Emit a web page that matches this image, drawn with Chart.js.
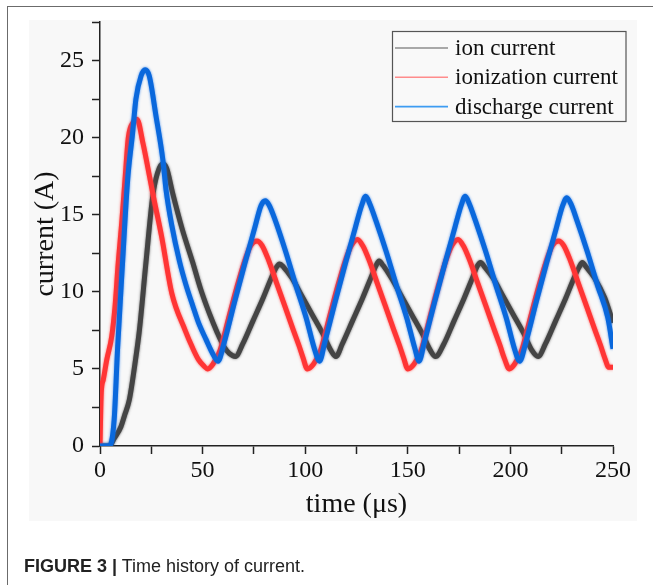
<!DOCTYPE html>
<html>
<head>
<meta charset="utf-8">
<script src="https://cdn.jsdelivr.net/npm/chart.js@4"></script>
<style>
html,body{margin:0;padding:0;background:#fff;width:653px;height:585px;overflow:hidden}
#frameTop{position:absolute;left:7px;top:6px;width:646px;height:0;border-top:1.5px solid #6b6b6b}
#frameLeft{position:absolute;left:7px;top:6px;width:0;height:579px;border-left:1.5px solid #6b6b6b}
#panel{position:absolute;left:29px;top:20px;width:608px;height:501px;background:#f8f8f8}
#wrap{position:absolute;left:0;top:0;width:653px;height:585px}
#caption{position:absolute;left:24px;top:557px;font-size:18px;line-height:18px;font-family:"Liberation Sans",Arial,sans-serif;color:#222;white-space:nowrap}
#caption b{font-weight:bold}
</style>
</head>
<body>
<div id="frameTop"></div>
<div id="frameLeft"></div>
<div id="panel"></div>
<div id="wrap"><canvas id="c" width="653" height="585"></canvas></div>
<div id="caption"><b>FIGURE 3 |</b> Time history of current.</div>
<script>
// ---- data ----
const seriesLabels = ['ion current', 'ionization current', 'discharge current'];

const ionTime = [0, 4.5, 7, 10.2, 12, 14.3, 17, 19.2, 22.4, 25.7, 28, 30.5, 32.5, 35.4, 40, 45.2, 49, 53.3, 57, 60.6, 63, 66,
  69.5, 74.5, 79.5, 83.5, 86, 87.5, 89.5, 93.5, 98.5, 103.5, 108.5, 112.5, 115,
  118, 123, 128, 132, 134.5, 136, 138, 142, 147, 152, 157, 161, 163.5,
  167.5, 172.5, 177.5, 181.5, 184, 185.5, 187.5, 191.5, 196.5, 201.5, 206.5, 210.5, 213.5,
  217, 222, 227, 231, 233.5, 235, 237, 241, 246, 250];
const ionValues = [0, 0, 0.5, 1.25, 2.0, 3.0, 5.3, 7.5, 11.9, 16.2, 17.7, 18.3, 18.0, 16.4, 14.1, 11.9, 10.2, 8.6, 7.4, 6.4, 6.0, 5.8,
  6.6, 8.1, 9.6, 10.9, 11.6, 11.8, 11.6, 10.9, 9.7, 8.5, 7.3, 6.2, 5.8,
  6.6, 8.1, 9.6, 10.9, 11.7, 12.0, 11.7, 10.9, 9.7, 8.5, 7.3, 6.2, 5.8,
  6.6, 8.1, 9.6, 10.9, 11.7, 11.9, 11.6, 10.9, 9.7, 8.5, 7.3, 6.2, 5.8,
  6.6, 8.1, 9.6, 10.9, 11.6, 11.9, 11.6, 10.9, 9.6, 8.0];

const ionizationTime = [0, 0.6, 1.6, 3.3, 5.7, 7.3, 8.9, 10.6, 12.2, 13.8, 16.2, 18, 21, 24.4, 26, 30, 35, 41.5, 45, 48, 50.5, 52.5,
  55, 58.5, 62.5, 66.5, 70.5, 73.5, 76.5, 79, 82, 86, 90, 94, 97, 99, 101,
  104, 107.5, 111.5, 115.5, 119.5, 122.5, 125.5, 128, 131, 135, 139, 143, 146, 148, 150,
  153, 156.5, 160.5, 164.5, 168.5, 171.5, 174.5, 177, 180, 184, 188, 192, 195, 197, 199.5,
  202, 205.5, 209.5, 213.5, 217.5, 220.5, 223.5, 226, 229, 233, 237, 241, 244, 246, 248, 250];
const ionizationValues = [0, 3.4, 4.3, 5.6, 7.1, 9.0, 11.9, 14.5, 17.3, 20.0, 21.0, 21.2, 19.6, 17.3, 16.2, 13.6, 9.9, 7.5, 6.4, 5.6, 5.2, 5.0,
  5.3, 6.2, 8.2, 10.2, 12.0, 13.0, 13.3, 13.0, 12.1, 10.6, 9.1, 7.6, 6.5, 5.7, 5.0,
  5.3, 6.2, 8.2, 10.2, 12.0, 13.0, 13.4, 13.0, 12.1, 10.6, 9.1, 7.6, 6.5, 5.7, 5.0,
  5.3, 6.2, 8.2, 10.2, 12.0, 13.0, 13.4, 13.0, 12.1, 10.6, 9.1, 7.6, 6.5, 5.7, 5.0,
  5.3, 6.2, 8.2, 10.2, 12.0, 13.0, 13.3, 13.0, 12.1, 10.6, 9.1, 7.6, 6.5, 5.7, 5.1, 5.1];

const dischargeTime = [0, 4.5, 6.9, 8.6, 11, 13.5, 15.9, 17.5, 20, 22, 24, 27.3, 30.6, 32.2, 35, 38.7, 42, 45.2, 48, 51.7, 54.5, 57.5,
  60.5, 65.5, 70.5, 75.5, 78.5, 80.5, 82.5, 85.5, 90.5, 95.5, 100.5, 104.5, 107,
  109.5, 114.5, 119.5, 124.5, 127.5, 129.5, 131.5, 134.5, 139.5, 144.5, 149.5, 153.5, 155.5,
  158, 163, 168, 173, 176, 178, 180, 183, 188, 193, 198, 202, 204.5,
  207.5, 212.5, 217.5, 222.5, 225.5, 227.5, 229.5, 232.5, 237.5, 242.5, 247.5, 250];
const dischargeValues = [0, 0, 1.7, 6.4, 11.9, 17.3, 20.3, 22.5, 24.0, 24.4, 24.0, 21.4, 18.6, 16.6, 14.3, 12.0, 10.4, 9.1, 8.0, 6.9, 6.1, 5.5,
  6.7, 9.3, 11.8, 14.2, 15.6, 15.9, 15.6, 14.6, 12.6, 10.4, 8.3, 6.3, 5.5,
  6.7, 9.3, 11.8, 14.2, 15.6, 16.2, 15.7, 14.6, 12.6, 10.4, 8.3, 6.3, 5.5,
  6.7, 9.3, 11.8, 14.2, 15.6, 16.2, 15.7, 14.6, 12.6, 10.4, 8.3, 6.3, 5.5,
  6.7, 9.3, 11.8, 14.2, 15.6, 16.1, 15.7, 14.6, 12.6, 10.4, 8.3, 6.3];

const xTickLabels = ['0', '50', '100', '150', '200', '250'];
const yTickLabels = ['0', '5', '10', '15', '20', '25'];

// ---- chart ----
const toPoints = (t, v) => t.map((x, i) => ({x: x, y: v[i]}));
const serif = '"Liberation Serif", "Times New Roman", serif';
const lineColors = ['#444444', '#ff3535', '#0a68dc'];
const fuzzColors = ['rgba(60,60,60,0.8)', 'rgba(255,60,60,0.8)', 'rgba(20,110,230,0.8)'];
const legendColors = ['#8c8c8c', '#ff8c8c', '#3d9cf2'];

const fuzz = {
  id: 'fuzz',
  beforeDatasetDraw(chart, args) {
    const c = chart.ctx;
    c.save();
    c.shadowColor = fuzzColors[args.index];
    c.shadowBlur = 2.5;
  },
  afterDatasetDraw(chart) {
    chart.ctx.restore();
  }
};

const boxLegend = {
  id: 'boxLegend',
  afterDraw(chart) {
    const c = chart.ctx;
    const x0 = 392.5, y0 = 31.5, w = 233.5, h = 90;
    c.save();
    c.fillStyle = '#f9f9f9';
    c.fillRect(x0, y0, w, h);
    c.strokeStyle = '#555';
    c.lineWidth = 1.2;
    c.strokeRect(x0, y0, w, h);
    c.font = '23px ' + serif;
    c.textBaseline = 'middle';
    c.textAlign = 'left';
    chart.data.datasets.forEach((ds, i) => {
      const y = 48 + i * 29.3;
      c.strokeStyle = legendColors[i];
      c.lineWidth = 1.6;
      c.beginPath();
      c.moveTo(395, y);
      c.lineTo(448, y);
      c.stroke();
      c.fillStyle = '#111';
      c.fillText(ds.label, 455, y + 1);
    });
    c.restore();
  }
};

new Chart(document.getElementById('c'), {
  type: 'line',
  data: {
    datasets: [
      {label: seriesLabels[0], data: toPoints(ionTime, ionValues), borderColor: lineColors[0], order: 2},
      {label: seriesLabels[1], data: toPoints(ionizationTime, ionizationValues), borderColor: lineColors[1], order: 1},
      {label: seriesLabels[2], data: toPoints(dischargeTime, dischargeValues), borderColor: lineColors[2], order: 0}
    ]
  },
  options: {
    responsive: false,
    animation: false,
    devicePixelRatio: 1,
    layout: {padding: {left: 29, right: 40, top: 22, bottom: 64}},
    elements: {
      point: {radius: 0},
      line: {borderWidth: 5, cubicInterpolationMode: 'monotone', borderJoinStyle: 'round'}
    },
    plugins: {legend: {display: false}, tooltip: {enabled: false}},
    scales: {
      x: {
        type: 'linear', min: 0, max: 250,
        afterFit(s) { s.height = 75; s.paddingLeft = 0; s.paddingRight = 0; },
        ticks: {
          stepSize: 25, autoSkip: false, maxRotation: 0, padding: 2, color: '#111',
          font: {family: serif, size: 24},
          callback: (v) => (v % 50 === 0 ? xTickLabels[v / 50] : '')
        },
        grid: {drawOnChartArea: false, drawTicks: true, tickLength: 8, tickWidth: 1.5, tickColor: '#222'},
        border: {display: true, color: '#222', width: 1.5},
        title: {display: true, text: 'time (μs)', color: '#111', font: {family: serif, size: 28}, padding: {top: 0, bottom: 0}}
      },
      y: {
        type: 'linear', min: 0, max: 27.5,
        afterFit(s) { s.width = 71; s.paddingTop = 0; s.paddingBottom = 0; },
        ticks: {
          stepSize: 2.5, autoSkip: false, padding: 8, color: '#111',
          font: {family: serif, size: 24},
          callback: (v) => (Math.abs(v % 5) < 1e-6 ? yTickLabels[Math.round(v / 5)] : '')
        },
        grid: {drawOnChartArea: false, drawTicks: true, tickLength: 8, tickWidth: 1.5, tickColor: '#222'},
        border: {display: true, color: '#222', width: 1.5},
        title: {display: true, text: 'current (A)', color: '#111', font: {family: serif, size: 28}, padding: {top: 0, bottom: 0}}
      }
    }
  },
  plugins: [fuzz, boxLegend]
});
</script>
</body>
</html>
